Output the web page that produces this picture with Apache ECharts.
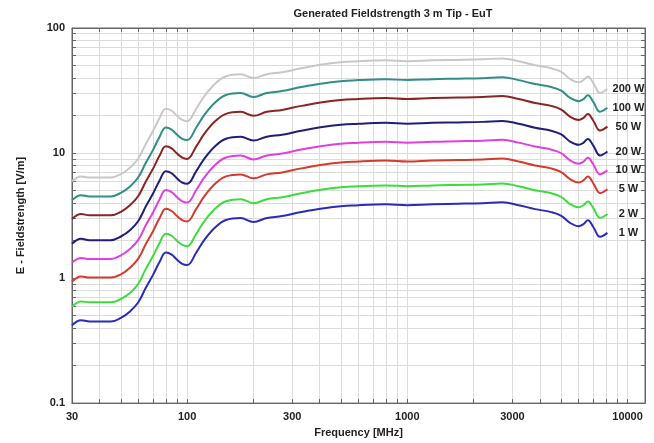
<!DOCTYPE html>
<html lang="en">
<head>
    <meta charset="UTF-8">
    <title>Generated Fieldstrength</title>
    <script type="text/javascript" src="https://cdn.jsdelivr.net/npm/echarts@6/dist/echarts.min.js"></script>
    <style>
        html, body { margin: 0; padding: 0; background: #fff; }
    </style>
</head>
<body>
<div id="main" style="width: 654px;height: 443px"></div>

<script>
    // frequency points [MHz]
    var freqs = [30, 33, 36, 40, 45, 50, 55, 60, 65, 70, 75, 80, 85, 90, 95, 100, 110, 120, 135, 150,
        175, 200, 230, 270, 330, 450, 600, 800, 1000, 1300, 1700, 2200, 2700, 3200, 3800, 4500, 5000,
        5500, 6000, 6300, 6600, 7000, 7500, 8100];

    // field strength [V/m] per forward power
    var w1 = [0.42, 0.46, 0.45, 0.45, 0.45, 0.48, 0.54, 0.64, 0.84, 1.06, 1.35, 1.60, 1.54, 1.40, 1.30, 1.27, 1.60, 2.03, 2.57, 2.91,
        3.02, 2.81, 3.02, 3.13, 3.37, 3.69, 3.83, 3.90, 3.83, 3.90, 3.93, 3.97, 4.04, 3.83, 3.56, 3.37, 3.15,
        2.75, 2.60, 2.70, 2.90, 2.55, 2.14, 2.30];
    var w2 = [0.59, 0.65, 0.64, 0.64, 0.64, 0.68, 0.76, 0.90, 1.19, 1.50, 1.91, 2.26, 2.18, 1.98, 1.84, 1.80, 2.26, 2.87, 3.63, 4.11,
        4.27, 3.97, 4.27, 4.43, 4.77, 5.22, 5.42, 5.51, 5.42, 5.51, 5.56, 5.61, 5.71, 5.42, 5.03, 4.77, 4.45,
        3.89, 3.68, 3.82, 4.10, 3.61, 3.03, 3.25];
    var w5 = [0.94, 1.03, 1.01, 1.01, 1.01, 1.07, 1.21, 1.43, 1.88, 2.37, 3.02, 3.58, 3.44, 3.13, 2.91, 2.84, 3.58, 4.54, 5.75, 6.51,
        6.75, 6.28, 6.75, 7.00, 7.54, 8.25, 8.56, 8.72, 8.56, 8.72, 8.79, 8.88, 9.03, 8.56, 7.96, 7.54, 7.04,
        6.15, 5.81, 6.04, 6.48, 5.70, 4.79, 5.14];
    var w10 = [1.33, 1.45, 1.42, 1.42, 1.42, 1.52, 1.71, 2.02, 2.66, 3.35, 4.27, 5.06, 4.87, 4.43, 4.11, 4.02, 5.06, 6.42, 8.13, 9.20,
        9.55, 8.89, 9.55, 9.90, 10.66, 11.67, 12.11, 12.33, 12.11, 12.33, 12.43, 12.55, 12.77, 12.11, 11.26, 10.66, 9.96,
        8.70, 8.22, 8.54, 9.17, 8.06, 6.77, 7.27];
    var w20 = [1.88, 2.06, 2.01, 2.01, 2.01, 2.15, 2.41, 2.86, 3.76, 4.74, 6.04, 7.16, 6.89, 6.26, 5.81, 5.68, 7.16, 9.08, 11.49, 13.01,
        13.51, 12.57, 13.51, 14.00, 15.07, 16.50, 17.13, 17.44, 17.13, 17.44, 17.57, 17.75, 18.07, 17.13, 15.92, 15.07, 14.09,
        12.30, 11.63, 12.07, 12.97, 11.40, 9.57, 10.29];
    var w50 = [2.97, 3.25, 3.18, 3.18, 3.18, 3.39, 3.82, 4.53, 5.94, 7.50, 9.55, 11.31, 10.89, 9.90, 9.19, 8.98, 11.31, 14.35, 18.17, 20.58,
        21.35, 19.87, 21.35, 22.13, 23.83, 26.09, 27.08, 27.58, 27.08, 27.58, 27.79, 28.07, 28.57, 27.08, 25.17, 23.83, 22.27,
        19.45, 18.38, 19.09, 20.51, 18.03, 15.13, 16.26];
    var w100 = [4.2, 4.6, 4.5, 4.5, 4.5, 4.8, 5.4, 6.4, 8.4, 10.6, 13.5, 16.0, 15.4, 14.0, 13.0, 12.7, 16.0, 20.3, 25.7, 29.1,
        30.2, 28.1, 30.2, 31.3, 33.7, 36.9, 38.3, 39.0, 38.3, 39.0, 39.3, 39.7, 40.4, 38.3, 35.6, 33.7, 31.5,
        27.5, 26.0, 27.0, 29.0, 25.5, 21.4, 23.0];
    var w200 = [5.94, 6.50, 6.36, 6.36, 6.36, 6.79, 7.64, 9.05, 11.88, 14.99, 19.09, 22.62, 21.78, 19.80, 18.38, 17.96, 22.62, 28.70, 36.34, 41.15,
        42.70, 39.73, 42.70, 44.26, 47.65, 52.18, 54.16, 55.15, 54.16, 55.15, 55.57, 56.14, 57.13, 54.16, 50.34, 47.65, 44.54,
        38.89, 36.76, 38.18, 41.01, 36.06, 30.26, 32.52];

    var names = ['1 W', '2 W', '5 W', '10 W', '20 W', '50 W', '100 W', '200 W'];
    var values = [w1, w2, w5, w10, w20, w50, w100, w200];
    var colors = ['#2b2bb8', '#3ddc3d', '#d63a2e', '#e040e0', '#1f1f7a', '#8c2323', '#2f8f86', '#c8c8c8'];

    var xLabels = [30, 100, 300, 1000, 3000, 10000];
    var xTicks = [30, 40, 50, 60, 70, 80, 90, 100, 200, 300, 400, 500, 600, 700, 800, 900,
        1000, 2000, 3000, 4000, 5000, 6000, 7000, 8000, 9000, 10000];
    var yLabels = [0.1, 1, 10, 100];
    var yTicks = [0.1, 0.2, 0.3, 0.4, 0.5, 0.6, 0.7, 0.8, 0.9, 1, 2, 3, 4, 5, 6, 7, 8, 9,
        10, 20, 30, 40, 50, 60, 70, 80, 90, 100];

    var font = 'Liberation Sans, Arial, sans-serif';
    var chartDom = document.getElementById('main');
    var myChart = echarts.init(chartDom);

    var series = [];
    for (var i = 0; i < names.length; i++) {
        series.push({
            name: names[i],
            type: 'line',
            smooth: 0.4,
            symbol: 'none',
            xAxisIndex: 0,
            yAxisIndex: 0,
            lineStyle: { color: colors[i], width: 2 },
            itemStyle: { color: colors[i] },
            endLabel: {
                show: true,
                formatter: '{a}',
                fontFamily: font,
                fontWeight: 'bold',
                fontSize: 11,
                color: '#222',
                distance: 5,
                align: 'center',
                offset: [16, 0]
            },
            data: freqs.map(function (f, k) { return [f, values[i][k]]; })
        });
    }

    var option = {
        animation: false,
        title: {
            text: 'Generated Fieldstrength 3 m Tip - EuT',
            left: 388,
            top: 3,
            textAlign: 'center',
            textStyle: { fontFamily: font, fontSize: 11, fontWeight: 'bold', color: '#222' }
        },
        grid: {
            left: 72, right: 9, top: 28, bottom: 34,
            show: true,
            borderColor: '#666',
            borderWidth: 1
        },
        xAxis: [
            {
                type: 'log',
                min: 30,
                max: 12000,
                name: 'Frequency [MHz]',
                nameLocation: 'middle',
                nameGap: 22,
                nameTextStyle: { fontFamily: font, fontSize: 11, fontWeight: 'bold', color: '#222' },
                axisLine: { lineStyle: { color: '#666' } },
                axisTick: { inside: true, length: 4, customValues: xTicks, lineStyle: { color: '#666' } },
                axisLabel: {
                    customValues: xLabels,
                    margin: 8,
                    fontFamily: font, fontSize: 11, fontWeight: 'bold', color: '#222',
                    formatter: function (v) { return String(v); }
                },
                splitLine: { show: true, lineStyle: { color: '#dcdcdc', width: 1 } }
            },
            {
                type: 'log',
                min: 30,
                max: 12000,
                position: 'top',
                axisLine: { lineStyle: { color: '#666' } },
                axisTick: { inside: true, length: 4, customValues: xTicks, lineStyle: { color: '#666' } },
                axisLabel: { show: false },
                splitLine: { show: false }
            }
        ],
        yAxis: [
            {
                type: 'log',
                min: 0.1,
                max: 100,
                name: 'E - Fieldstrength [V/m]',
                nameLocation: 'middle',
                nameGap: 46,
                nameTextStyle: { fontFamily: font, fontSize: 11, fontWeight: 'bold', color: '#222' },
                axisLine: { show: true, lineStyle: { color: '#666' } },
                axisTick: { show: true, inside: true, length: 4, customValues: yTicks, lineStyle: { color: '#666' } },
                axisLabel: {
                    customValues: yLabels,
                    margin: 7,
                    fontFamily: font, fontSize: 11, fontWeight: 'bold', color: '#222',
                    formatter: function (v) { return String(v); }
                },
                splitLine: { show: true, lineStyle: { color: '#dcdcdc', width: 1 } }
            },
            {
                type: 'log',
                min: 0.1,
                max: 100,
                position: 'right',
                axisLine: { show: true, lineStyle: { color: '#666' } },
                axisTick: { show: true, inside: true, length: 4, customValues: yTicks, lineStyle: { color: '#666' } },
                axisLabel: { show: false },
                splitLine: { show: false }
            }
        ],
        series: series
    };

    myChart.setOption(option);
</script>
</body>
</html>
